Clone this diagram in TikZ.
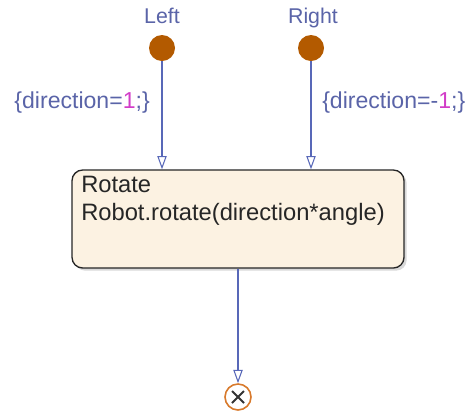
\documentclass[tikz,border=0pt]{standalone}
\usepackage{fontspec}
\setmainfont{Liberation Sans}
\usetikzlibrary{arrows.meta,shadows,calc}
\definecolor{lblue}{HTML}{5A64A8}
\definecolor{lnblue}{HTML}{5868B8}
\definecolor{startfill}{HTML}{B35A00}
\definecolor{numpink}{HTML}{D23CC8}
\definecolor{boxfill}{HTML}{FCF2E2}
\definecolor{termorange}{HTML}{D87A2C}
\begin{document}
\begin{tikzpicture}[x=0.75pt,y=-0.75pt,
  lbl/.style={text=lblue,font=\fontsize{16}{19}\selectfont,inner sep=0pt,anchor=base},
  tlbl/.style={text=lblue,font=\fontsize{17.3}{20}\selectfont,inner sep=0pt},
  startdot/.style={circle,fill=startfill,minimum size=19.5pt,inner sep=0pt},
  conn/.style={draw=lnblue,line width=0.8pt,-{Triangle[open,length=10pt,width=7pt]}},
  statebox/.style={draw=black!85,line width=1pt,fill=boxfill,rounded corners=8pt,
    minimum width=249pt,minimum height=73.5pt,inner sep=0pt,
    drop shadow={shadow xshift=2pt,shadow yshift=-2pt,opacity=0.3,fill=black!50}},
  boxtxt/.style={text=black!85,font=\fontsize{17.8}{21}\selectfont,inner sep=0pt,anchor=base west},
  termcirc/.style={circle,draw=termorange,line width=1.2pt,fill=white,minimum size=19.5pt,inner sep=0pt}]
\useasboundingbox (0,0) rectangle (473,412);
\node[lbl] (lt) at (162,23.5) {Left};
\node[lbl] (rt) at (313,23.5) {Right};
\node[startdot] (ls) at (162,48) {};
\node[startdot] (rs) at (311,48) {};
\node[statebox] (box) at (238,219) {};
\node[boxtxt] (name) at (81,192) {Rotate};
\node[boxtxt] (act) at (81,220) {Robot.rotate(direction*angle)};
\node[termcirc] (term) at (238,397) {};
\draw[black!80,line width=1.5pt] ($(term.center)+(-6,-6)$) -- ($(term.center)+(6,6)$)
  ($(term.center)+(-6,6)$) -- ($(term.center)+(6,-6)$);
\draw[conn] (ls) -- (ls |- box.north);
\draw[conn] (rs) -- (rs |- box.north);
\draw[conn] (box.south) -- (term);
\node[tlbl,anchor=base east] (ll) at (150,108) {\{direction=\textcolor{numpink}{1};\}};
\node[tlbl,anchor=base west] (rl) at (322,108) {\{direction=-\textcolor{numpink}{1};\}};
\end{tikzpicture}
\end{document}
